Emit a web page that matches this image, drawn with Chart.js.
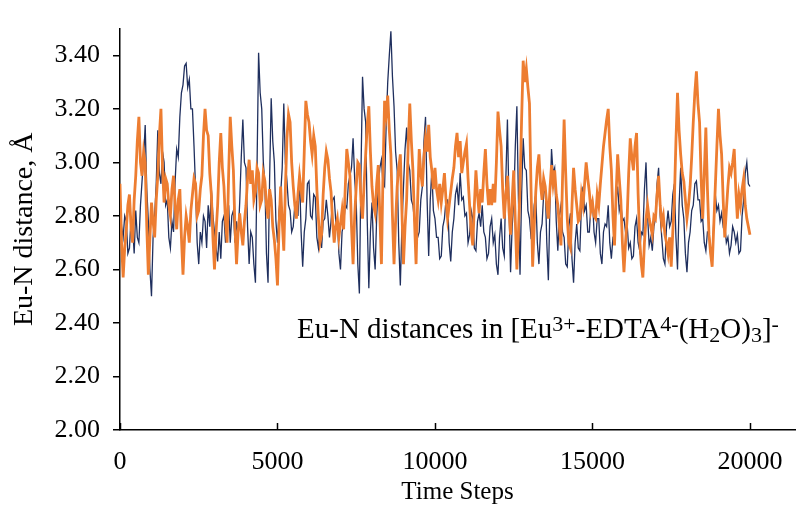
<!DOCTYPE html>
<html>
<head>
<meta charset="utf-8">
<title>Eu-N distances</title>
<script src="https://cdn.jsdelivr.net/npm/chart.js@4.4.1/dist/chart.umd.min.js"></script>
<style>
  html, body { margin: 0; padding: 0; background: #fff; }
  canvas { display: block; }
</style>
</head>
<body>
<canvas id="eu_n" width="796" height="509"></canvas>
<script>
// MD trajectory, Eu-N distances sampled every 50 steps
const STEP = 50;
const steps = Array.from({ length: 401 }, (_, i) => i * STEP);

// Eu-N(1), one row per 1000 steps
const distN1 = [
  2.85, 2.76, 2.72, 2.80, 2.78, 2.66, 2.68, 2.79, 2.76, 2.66, 2.82, 2.72, 2.70, 2.84, 2.93, 3.02, 3.14, 2.90, 2.78, 2.60,
  2.50, 2.72, 2.80, 2.92, 3.12, 2.96, 2.92, 3.04, 3.00, 2.84, 2.86, 2.72, 2.68, 2.78, 2.74, 2.93, 3.05, 3.02, 3.17, 3.26,
  3.29, 3.36, 3.37, 3.28, 3.31, 3.20, 3.20, 3.06, 2.90, 2.70, 2.62, 2.74, 2.70, 2.80, 2.78, 2.68, 2.84, 2.76, 2.90, 2.80,
  2.74, 2.68, 2.63, 2.74, 2.64, 2.78, 2.80, 2.70, 2.76, 2.84, 2.70, 2.80, 2.82, 2.70, 2.78, 2.72, 2.85, 3.02, 3.16, 3.00,
  2.98, 2.76, 2.62, 2.74, 2.72, 2.62, 2.55, 2.98, 3.41, 3.26, 3.20, 3.00, 2.92, 2.66, 2.55, 2.94, 3.24, 3.08, 3.00, 2.78,
  2.70, 2.82, 2.88, 2.98, 3.22, 3.00, 2.93, 2.84, 2.82, 2.74, 2.76, 2.84, 2.85, 2.80, 2.95, 2.74, 2.61, 2.74, 2.79, 2.92,
  2.93, 2.80, 2.79, 2.88, 2.87, 2.72, 2.68, 2.76, 2.68, 2.78, 2.79, 2.86, 2.80, 2.72, 2.78, 2.86, 2.87, 2.78, 2.79, 2.66,
  2.60, 2.74, 2.77, 2.84, 2.83, 2.92, 2.95, 2.98, 3.09, 2.94, 2.85, 2.62, 2.51, 2.96, 3.32, 3.20, 3.15, 2.78, 2.53, 2.74,
  2.85, 2.68, 2.60, 2.80, 2.91, 2.98, 3.01, 2.92, 2.91, 3.14, 3.30, 3.40, 3.49, 3.32, 3.21, 3.04, 2.97, 2.70, 2.54, 2.76,
  2.91, 3.05, 3.13, 3.00, 2.97, 2.86, 2.84, 2.78, 2.79, 2.72, 2.74, 2.86, 2.91, 3.08, 3.17, 2.86, 2.65, 2.86, 2.97, 2.82,
  2.79, 2.72, 2.72, 2.64, 2.65, 2.76, 2.79, 2.86, 2.86, 2.70, 2.63, 2.74, 2.79, 2.88, 2.91, 2.84, 2.96, 2.86, 2.87, 2.80,
  2.81, 2.70, 2.73, 2.82, 2.79, 2.68, 2.67, 2.78, 2.81, 2.76, 2.84, 2.74, 2.72, 2.64, 2.66, 2.76, 2.79, 2.70, 2.73, 2.62,
  2.58, 2.72, 2.79, 2.68, 2.65, 2.94, 3.16, 2.84, 2.59, 2.76, 2.85, 3.06, 3.21, 2.86, 2.58, 2.88, 3.09, 2.98, 2.97, 2.82,
  2.79, 2.72, 2.73, 2.84, 2.88, 2.70, 2.62, 2.74, 2.77, 2.88, 2.92, 2.70, 2.56, 2.84, 3.05, 2.96, 2.98, 2.78, 2.67, 2.80,
  2.84, 2.74, 2.72, 2.62, 2.61, 2.76, 2.81, 2.64, 2.55, 2.70, 2.77, 2.68, 2.67, 2.84, 2.91, 2.82, 2.84, 2.74, 2.74, 2.84,
  2.86, 2.74, 2.70, 2.79, 2.79, 2.66, 2.62, 2.74, 2.77, 2.76, 2.84, 2.70, 2.64, 2.72, 2.73, 2.86, 2.91, 2.82, 2.85, 2.78,
  2.79, 2.74, 2.77, 2.68, 2.70, 2.64, 2.65, 2.76, 2.79, 2.70, 2.67, 2.74, 2.73, 2.90, 3.00, 2.80, 2.69, 2.72, 2.67, 2.76,
  2.79, 2.92, 2.98, 2.80, 2.72, 2.64, 2.62, 2.76, 2.82, 2.76, 2.78, 2.88, 2.92, 2.72, 2.60, 2.84, 2.98, 2.84, 2.79, 2.66,
  2.59, 2.70, 2.74, 2.82, 2.84, 2.92, 2.93, 2.86, 2.86, 2.78, 2.79, 2.70, 2.67, 2.74, 2.74, 2.66, 2.62, 2.78, 2.88, 2.82,
  2.84, 2.78, 2.81, 2.76, 2.77, 2.70, 2.72, 2.66, 2.69, 2.76, 2.74, 2.70, 2.73, 2.66, 2.67, 2.80, 2.86, 2.96, 3.00, 2.92,
  2.91
];

// Eu-N(2), one row per 1000 steps
const distN2 = [
  2.92, 2.70, 2.57, 2.68, 2.75, 2.84, 2.88, 2.76, 2.70, 2.86, 2.95, 3.08, 3.17, 3.00, 2.95, 3.04, 3.00, 2.76, 2.58, 2.72,
  2.85, 2.78, 2.72, 2.86, 2.95, 3.10, 3.20, 2.98, 2.85, 2.94, 2.92, 2.84, 2.80, 2.90, 2.95, 2.84, 2.75, 2.86, 2.90, 2.72,
  2.58, 2.72, 2.80, 2.76, 2.70, 2.82, 2.88, 2.94, 2.92, 2.80, 2.82, 2.90, 2.95, 3.10, 3.20, 3.12, 3.10, 2.96, 2.88, 2.72,
  2.60, 2.74, 2.84, 3.00, 3.11, 2.98, 2.91, 2.78, 2.70, 2.96, 3.17, 3.06, 2.97, 2.76, 2.62, 2.74, 2.81, 2.74, 2.69, 2.78,
  2.84, 2.94, 3.01, 2.92, 2.97, 2.86, 2.89, 2.98, 2.96, 2.84, 2.86, 2.96, 2.93, 2.84, 2.79, 2.90, 2.86, 2.76, 2.71, 2.64,
  2.54, 2.76, 2.91, 2.78, 2.67, 2.90, 3.09, 3.18, 3.15, 3.00, 2.91, 2.84, 2.79, 2.88, 2.95, 2.90, 2.85, 3.04, 3.23, 3.18,
  3.15, 3.08, 3.03, 3.10, 3.06, 2.90, 2.79, 2.70, 2.73, 2.88, 2.98, 3.04, 3.01, 2.94, 2.89, 2.78, 2.70, 2.76, 2.79, 2.72,
  2.77, 2.82, 2.75, 2.90, 3.05, 3.00, 2.95, 2.76, 2.62, 2.80, 2.91, 3.00, 2.99, 2.86, 2.79, 2.92, 3.03, 3.14, 3.21, 3.04,
  2.91, 2.84, 2.81, 2.92, 2.99, 2.80, 2.62, 2.96, 3.23, 3.18, 3.25, 3.12, 3.03, 2.80, 2.62, 2.78, 2.91, 2.98, 3.03, 2.82,
  2.62, 2.76, 2.86, 3.06, 3.22, 3.08, 2.97, 2.78, 2.62, 2.86, 3.05, 2.96, 2.91, 3.02, 3.09, 3.04, 3.14, 3.02, 2.97, 2.90,
  2.98, 2.90, 2.86, 2.92, 2.85, 2.90, 2.96, 2.86, 2.79, 2.84, 2.89, 2.94, 2.98, 3.06, 3.11, 3.02, 3.08, 2.96, 3.00, 3.04,
  3.07, 2.94, 2.84, 2.74, 2.69, 2.84, 2.97, 2.88, 2.81, 2.90, 2.85, 2.96, 3.05, 2.92, 2.84, 2.90, 2.84, 2.92, 2.85, 3.00,
  3.19, 3.12, 3.06, 2.90, 2.79, 2.88, 2.95, 2.82, 2.73, 2.86, 2.97, 2.78, 2.60, 2.74, 2.91, 3.16, 3.38, 3.30, 3.35, 3.28,
  3.22, 2.90, 2.61, 2.76, 2.89, 2.98, 3.03, 2.92, 2.86, 2.94, 2.91, 2.84, 2.79, 2.90, 2.99, 2.92, 2.97, 2.88, 2.84, 2.76,
  2.69, 2.94, 3.16, 2.96, 2.79, 2.70, 2.68, 2.84, 2.98, 2.90, 2.84, 2.78, 2.79, 2.88, 2.84, 2.92, 3.00, 2.94, 2.89, 2.82,
  2.85, 2.80, 2.79, 2.88, 2.84, 2.92, 2.99, 3.06, 3.11, 3.16, 3.20, 3.06, 2.97, 2.80, 2.69, 2.88, 3.03, 2.94, 2.86, 2.70,
  2.59, 2.70, 2.79, 2.96, 3.09, 3.02, 2.97, 3.06, 3.11, 2.88, 2.71, 2.62, 2.57, 2.70, 2.79, 2.84, 2.79, 2.76, 2.73, 2.80,
  2.79, 2.88, 2.95, 2.84, 2.77, 2.80, 2.73, 2.70, 2.66, 2.72, 2.61, 2.74, 2.86, 3.08, 3.26, 3.12, 3.03, 2.96, 2.93, 2.86,
  2.79, 2.84, 2.91, 3.02, 3.15, 3.26, 3.34, 3.22, 3.15, 2.94, 2.79, 2.96, 3.13, 2.90, 2.73, 2.66, 2.61, 2.76, 2.91, 3.06,
  3.20, 3.10, 3.03, 2.86, 2.72, 2.82, 2.91, 2.98, 2.96, 3.00, 3.05, 2.90, 2.79, 2.88, 2.84, 2.90, 2.94, 2.84, 2.79, 2.76,
  2.73
];

const xTickValues = [0, 5000, 10000, 15000, 20000];
const yTickValues = [2.0, 2.2, 2.4, 2.6, 2.8, 3.0, 3.2, 3.4];

const SERIF = '"Liberation Serif", "Times New Roman", serif';
Chart.defaults.color = '#000';
Chart.defaults.font.family = SERIF;

const toPoints = vals => steps.map((s, i) => ({ x: s, y: vals[i] }));

// x ticks point up into the plot
const innerXTicks = {
  id: 'innerXTicks',
  afterDraw(chart) {
    const { ctx } = chart;
    const x = chart.scales.x;
    ctx.save();
    ctx.strokeStyle = '#000';
    ctx.lineWidth = 1.5;
    x.ticks.forEach((t, i) => {
      const px = Math.round(x.getPixelForTick(i)) + 0.5;
      ctx.beginPath();
      ctx.moveTo(px, x.top);
      ctx.lineTo(px, x.top - 7);
      ctx.stroke();
    });
    ctx.restore();
  }
};

// caption with super/subscripts
const caption = {
  id: 'caption',
  afterDraw(chart) {
    const { ctx } = chart;
    const px = chart.scales.x.getPixelForValue(5620);
    const py = chart.scales.y.getPixelForValue(2.345);
    const runs = [
      ['Eu-N distances in [Eu', 0], ['3+', 1], ['-EDTA', 0], ['4-', 1],
      ['(H', 0], ['2', -1], ['O)', 0], ['3', -1], [']', 0], ['-', 1]
    ];
    ctx.save();
    ctx.fillStyle = '#000';
    ctx.textBaseline = 'alphabetic';
    let cx = px;
    runs.forEach(([txt, pos]) => {
      const size = pos === 0 ? 29 : 22;
      ctx.font = size + 'px ' + SERIF;
      const dy = pos === 1 ? -7 : pos === -1 ? 4 : 0;
      ctx.fillText(txt, cx, py + dy);
      cx += ctx.measureText(txt).width;
    });
    ctx.restore();
  }
};

new Chart(document.getElementById('eu_n'), {
  type: 'line',
  data: {
    datasets: [
      {
        label: 'Eu-N1',
        data: toPoints(distN1),
        borderColor: '#1f2f5e',
        borderWidth: 1.3,
        pointRadius: 0,
        tension: 0,
        order: 1
      },
      {
        label: 'Eu-N2',
        data: toPoints(distN2),
        borderColor: '#ed7d31',
        borderWidth: 2.8,
        pointRadius: 0,
        tension: 0,
        order: 0
      }
    ]
  },
  options: {
    responsive: false,
    animation: false,
    layout: { padding: { top: 13, right: 1, left: 0, bottom: 0 } },
    plugins: { legend: { display: false }, tooltip: { enabled: false } },
    scales: {
      x: {
        type: 'linear',
        min: 0,
        max: 21430,
        afterBuildTicks: s => { s.ticks = xTickValues.map(v => ({ value: v })); },
        afterFit: s => { s.height = 79; s.paddingLeft = 0; s.paddingRight = 0; },
        border: { color: '#000', width: 1.5 },
        grid: { display: false, drawTicks: false },
        ticks: { font: { size: 26 }, padding: 17, maxRotation: 0, callback: v => String(v) },
        title: { display: true, text: 'Time Steps', font: { size: 25 }, padding: { top: 0, bottom: 2 } }
      },
      y: {
        min: 2.0,
        max: 3.5,
        afterBuildTicks: s => { s.ticks = yTickValues.map(v => ({ value: v })); },
        afterFit: s => { s.width = 120; },
        border: { color: '#000', width: 1.5 },
        grid: { drawOnChartArea: false, drawTicks: true, tickLength: 7, color: '#000', lineWidth: 1.5 },
        ticks: { font: { size: 26 }, padding: 13, callback: v => Number(v).toFixed(2) },
        title: { display: true, text: 'Eu-N distance, Å', font: { size: 28 }, padding: { top: 8, bottom: 0 } }
      }
    }
  },
  plugins: [innerXTicks, caption]
});
</script>
</body>
</html>
